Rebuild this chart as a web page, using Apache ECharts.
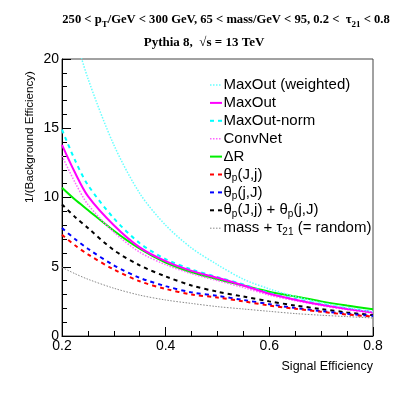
<!DOCTYPE html>
<html>
<head>
<meta charset="utf-8">
<script src="https://cdn.jsdelivr.net/npm/echarts@6/dist/echarts.min.js"></script>
<style>html,body{margin:0;padding:0;background:#fff}#c{width:415px;height:395px}</style>
</head>
<body>
<div id="c"></div>
<script>
const signalEff = [0.2, 0.225, 0.25, 0.3, 0.35, 0.4, 0.45, 0.5, 0.55, 0.6, 0.65, 0.7, 0.75, 0.8];
const maxoutWeighted = [26.0, 21.8, 18.6, 13.8, 10.3, 8.0, 6.35, 5.15, 4.1, 3.4, 2.85, 2.4, 2.05, 1.75];
const maxout        = [13.8, 11.8, 10.1, 8.0, 6.4, 5.4, 4.7, 4.2, 3.65, 3.05, 2.62, 2.25, 1.95, 1.7];
const maxoutNorm    = [14.9, 12.7, 10.9, 8.5, 6.7, 5.55, 4.8, 4.25, 3.72, 3.1, 2.67, 2.3, 2.0, 1.75];
const convNet       = [13.0, 11.1, 9.5, 7.5, 6.05, 5.15, 4.5, 4.0, 3.5, 2.95, 2.55, 2.2, 1.9, 1.65];
const deltaR        = [10.7, 9.85, 9.1, 7.6, 6.3, 5.3, 4.6, 4.1, 3.65, 3.2, 2.85, 2.5, 2.2, 1.93];
const thetaJj       = [7.3, 6.55, 5.9, 4.8, 3.95, 3.4, 3.0, 2.78, 2.5, 2.2, 1.97, 1.75, 1.55, 1.4];
const thetajJ       = [7.8, 7.0, 6.3, 5.1, 4.2, 3.6, 3.15, 2.9, 2.6, 2.3, 2.02, 1.8, 1.6, 1.45];
const thetaSum      = [9.5, 8.6, 7.8, 6.2, 5.1, 4.3, 3.65, 3.2, 2.85, 2.5, 2.2, 1.95, 1.7, 1.5];
const massTau       = [4.95, 4.5, 4.1, 3.45, 2.95, 2.6, 2.35, 2.12, 1.95, 1.78, 1.62, 1.5, 1.4, 1.3];

const seriesNames = ['MaxOut (weighted)', 'MaxOut', 'MaxOut-norm', 'ConvNet', 'ΔR', 'θp(J,j)', 'θp(j,J)', 'θp(J,j) + θp(j,J)', 'mass + τ21 (= random)'];
const legendLabels = ['MaxOut (weighted)', 'MaxOut', 'MaxOut-norm', 'ConvNet', 'ΔR', 'θ{sub|p}(J,j)', 'θ{sub|p}(j,J)', 'θ{sub|p}(J,j) + θ{sub|p}(j,J)', 'mass + τ{sub|21} (= random)'];
const xTicks = [0.2, 0.4, 0.6, 0.8];
const yTicks = [0, 5, 10, 15, 20];

const seriesValues = [maxoutWeighted, maxout, maxoutNorm, convNet, deltaR, thetaJj, thetajJ, thetaSum, massTau];
const styles = [
  {color: '#66ffff', width: 1.5, type: [1.5, 1.5]},
  {color: '#ff00ff', width: 2, type: 'solid'},
  {color: '#00ffff', width: 2, type: [4, 4]},
  {color: '#ff66ff', width: 1.5, type: [1.5, 1.5]},
  {color: '#00ee00', width: 2, type: 'solid'},
  {color: '#ff0000', width: 2, type: [4, 4]},
  {color: '#0000ff', width: 2, type: [4, 4]},
  {color: '#000000', width: 2, type: [4, 4]},
  {color: '#888888', width: 1, type: [1.5, 1.5]}
];

const series = seriesNames.map((n, i) => ({
  name: n,
  type: 'line',
  smooth: 0.3,
  symbol: 'none',
  clip: true,
  data: signalEff.map((x, k) => [x, seriesValues[i][k]]),
  lineStyle: {color: styles[i].color, width: styles[i].width, type: styles[i].type},
  itemStyle: {color: styles[i].color},
  z: 10 - i
}));

const labelFont = 'Liberation Sans, Arial, sans-serif';
const serif = 'Liberation Serif, Times New Roman, serif';

// legend drawn as graphic elements
const legendGraphics = [];
seriesNames.forEach((n, i) => {
  const yc = 85 + 17.9 * i;
  const st = styles[i];
  legendGraphics.push({
    type: 'line', shape: {x1: 210, y1: yc, x2: 222, y2: yc},
    style: {stroke: st.color, lineWidth: st.width, lineDash: st.type === 'solid' ? null : st.type}
  });
  legendGraphics.push({
    type: 'text', x: 223.5, y: yc,
    style: {text: legendLabels[i], fontFamily: labelFont, fontSize: 15, fill: '#000', textAlign: 'left', textVerticalAlign: 'middle', lineHeight: 18,
      rich: {sub: {fontFamily: labelFont, fontSize: 10, lineHeight: 10, verticalAlign: 'bottom', fill: '#000'}}}
  });
});

const chart = echarts.init(document.getElementById('c'), null, {renderer: 'canvas'});
chart.setOption({
  animation: false,
  backgroundColor: '#fff',
  title: [
    {
      text: '250 < p{sub|T}/GeV < 300 GeV, 65 < mass/GeV < 95, 0.2 <  τ{sub|21} < 0.8',
      left: 226, top: 11, textAlign: 'center', padding: 0,
      textStyle: {fontFamily: serif, fontWeight: 'bold', fontSize: 12.6, color: '#000', lineHeight: 18,
        rich: {sub: {fontFamily: serif, fontWeight: 'bold', fontSize: 9, lineHeight: 9, verticalAlign: 'bottom'}}}
    },
    {
      text: 'Pythia 8,  √s = 13 TeV',
      left: 204, top: 36, textAlign: 'center', padding: 0,
      textStyle: {fontFamily: serif, fontWeight: 'bold', fontSize: 13, color: '#000'}
    }
  ],
  grid: {left: 62, top: 59, right: 42, bottom: 59, show: true, borderColor: '#444', borderWidth: 1, backgroundColor: 'transparent'},
  xAxis: {
    type: 'value', min: 0.2, max: 0.8, interval: 0.2,
    name: 'Signal Efficiency', nameLocation: 'end', nameGap: 0,
    nameTextStyle: {fontFamily: labelFont, fontSize: 12.5, color: '#000', align: 'right', verticalAlign: 'top', padding: [24, 0, 0, 0]},
    axisLine: {lineStyle: {color: '#000', width: 1}},
    axisTick: {inside: true, length: 9, lineStyle: {color: '#000'}},
    minorTick: {show: true, splitNumber: 4, length: 5, lineStyle: {color: '#000'}},
    splitLine: {show: false},
    axisLabel: {fontFamily: labelFont, fontSize: 14, color: '#000', margin: 3, showMinLabel: true, showMaxLabel: true,
      formatter: v => { const t = xTicks.find(a => Math.abs(a - v) < 1e-6); return t === undefined ? '' : String(t); }}
  },
  yAxis: {
    type: 'value', min: 0, max: 20, interval: 5,
    axisLine: {show: true, lineStyle: {color: '#000', width: 1}},
    axisTick: {show: true, inside: true, length: 9, lineStyle: {color: '#000'}},
    minorTick: {show: true, splitNumber: 5, length: 5, lineStyle: {color: '#000'}},
    splitLine: {show: false},
    axisLabel: {fontFamily: labelFont, fontSize: 14, color: '#000', margin: 3,
      formatter: v => { const t = yTicks.find(a => Math.abs(a - v) < 1e-6); return t === undefined ? '' : String(t); }}
  },
  graphic: [{
    type: 'text', x: 30, y: 137, rotation: Math.PI / 2,
    style: {text: '1/(Background Efficiency)', fontFamily: labelFont, fontSize: 11.6, fill: '#000', textAlign: 'center', textVerticalAlign: 'middle'}
  }].concat(legendGraphics),
  series: series
});
</script>
</body>
</html>
